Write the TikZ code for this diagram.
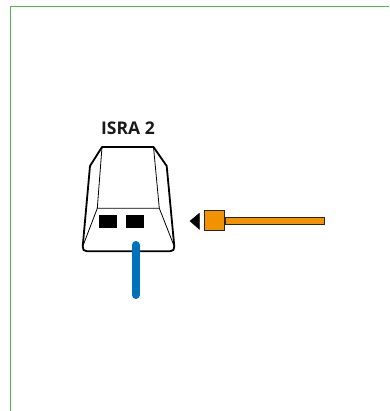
\documentclass[tikz,border=0pt]{standalone}
\usepackage{fontspec}
\setsansfont{Open Sans}
\usepackage{xcolor}
\definecolor{frameGreen}{HTML}{4FB848}
\definecolor{cableBlue}{HTML}{0072BC}
\definecolor{plugOrange}{HTML}{F39200}
\begin{document}
\begin{tikzpicture}[x=1pt,y=-1pt]
\tikzset{
    window/.style={%
        fill=black,
        rectangle,
        inner sep=0pt,
        minimum height=12.7pt,
        minimum width=17.7pt
        },
    plug/.style={%
        draw=black!85, fill=plugOrange, line width=1pt,
        rectangle,
        inner sep=0pt,
        minimum height=19.5pt,
        minimum width=19.5pt
        },
}
\useasboundingbox (0,0) rectangle (389,411);
%%%FRAME
\draw[frameGreen, line width=1.7pt] (10.5,411) -- (10.5,6.5) -- (389,6.5);
%%%SOCKET
\draw[line width=1.8pt, line join=round]
(102,147) -- (153.5,147) -- (166.7,166) -- (174.3,246.5)
.. controls (174.6,249.5) and (173,251.3) .. (170,251.3)
-- (87,251.3)
.. controls (84,251.3) and (82.4,249.5) .. (82.7,246.5)
-- (90,166) -- cycle;
\draw[line width=0.8pt] (102,147) -- (97.3,208.3) -- (159.3,208.3) -- (153.5,147);
\draw[line width=0.8pt] (97.3,208.3) -- (82.7,246.5) (159.3,208.3) -- (174.3,246.5);
\node[window] (w1) at (108.2,221.6) {};
\node[window] (w2) at (135.2,221.6) {};
\node[font=\sffamily\bfseries, text=black!90, inner sep=0pt] (isra) at (128,128.5) {\fontsize{17.5}{20}\selectfont ISRA 2};
%%%CABLES
\coordinate (blueTop) at (135.7,245);
\coordinate (blueEnd) at (135.7,295);
\draw[cableBlue, line width=8pt, line cap=round] (blueTop) -- (blueEnd);
\node[plug] (sq) at (214.3,220.7) {};
\node[draw=black!85, fill=plugOrange, line width=0.8pt, rectangle, inner sep=0pt, minimum height=7.6pt, minimum width=99pt, anchor=west] (bar) at (sq.east) {};
%%%DIRECTION
\filldraw[black] (190,221) -- (199.3,213.3) -- (199.3,229.3) -- cycle;
\end{tikzpicture}
\end{document}
